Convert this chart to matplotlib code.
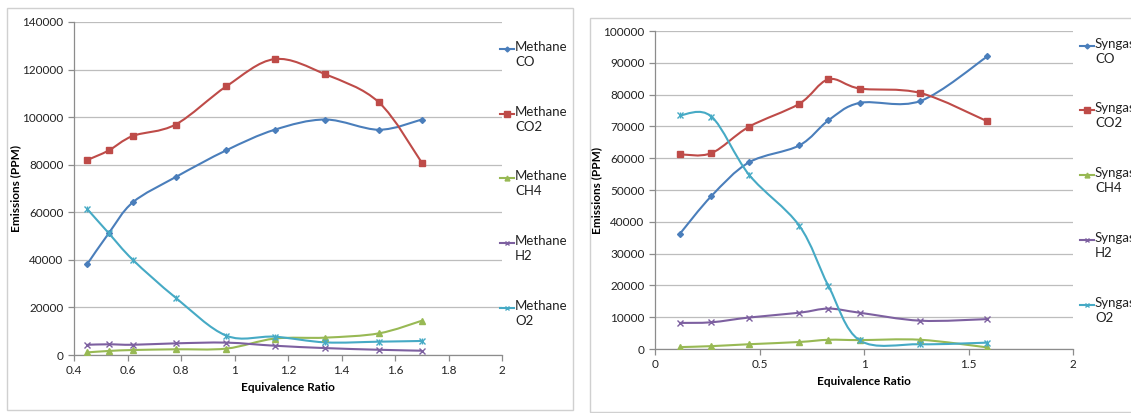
import matplotlib
matplotlib.use("Agg")
from matplotlib import pyplot as plt
from matplotlib.path import Path
from matplotlib.patches import PathPatch, Rectangle
from matplotlib.lines import Line2D
import numpy as np

plt.rcParams["font.family"] = ["Lato", "DejaVu Sans"]

# methane data
m_x = [0.45, 0.53, 0.62, 0.78, 0.97, 1.15, 1.34, 1.54, 1.70]
m_co = [38300, 51200, 64200, 74800, 86100, 94700, 99000, 94700, 99000]
m_co2 = [82000, 86000, 92100, 96900, 113000, 124400, 118000, 106200, 80900]
m_ch4 = [1100, 1700, 2100, 2400, 2700, 6900, 7300, 9100, 14400]
m_h2 = [4300, 4500, 4300, 4900, 5200, 3900, 2900, 2200, 1800]
m_o2 = [61300, 51200, 40000, 24100, 8100, 7700, 5300, 5600, 5900]

# syngas data
s_x = [0.12, 0.27, 0.45, 0.69, 0.83, 0.98, 1.27, 1.59]
s_co = [36300, 48100, 58700, 64000, 71900, 77400, 78000, 92000]
s_co2 = [61200, 61600, 69900, 77100, 84800, 81900, 80500, 71600]
s_ch4 = [600, 900, 1500, 2200, 2900, 2800, 2900, 500]
s_h2 = [8200, 8400, 9900, 11400, 12700, 11400, 8900, 9400]
s_o2 = [73500, 73100, 54800, 38800, 19800, 2700, 1500, 2000]

species = ["CO", "CO2", "CH4", "H2", "O2"]
colors = ["#4A7EBB", "#BE4B48", "#98B954", "#7D60A0", "#46AAC5"]
markers = ["D", "s", "^", "x", "x"]
msizes = [3, 5, 4, 4, 4]


# smoothed line like excel (bezier through the points)
def smooth_path(x, y, t=1 / 6):
    pts = np.column_stack([x, y]).astype(float)
    n = len(pts)
    verts = [pts[0]]
    codes = [Path.MOVETO]
    for i in range(n - 1):
        p0 = pts[max(i - 1, 0)]
        p1 = pts[i]
        p2 = pts[i + 1]
        p3 = pts[min(i + 2, n - 1)]
        verts += [p1 + (p2 - p0) * t, p2 - (p3 - p1) * t, p2]
        codes += [Path.CURVE4] * 3
    return Path(verts, codes)


def draw_chart(ax, x, series, xlim, xticks, xlabels, ylim, yticks):
    for k, y in enumerate(series):
        ax.add_patch(PathPatch(smooth_path(x, y), fc="none", ec=colors[k], lw=1.5, zorder=3))
        ax.plot(x, y, ls="none", marker=markers[k], ms=msizes[k], color=colors[k],
                mew=1, zorder=4)
        if k == 4:
            ax.plot(x, y, ls="none", marker="|", ms=4, color=colors[k], mew=1, zorder=4)
    ax.set_xlim(xlim)
    ax.set_ylim(ylim)
    ax.set_xticks(xticks)
    ax.set_xticklabels(xlabels)
    ax.set_yticks(yticks)
    ax.set_yticklabels([str(v) for v in yticks])
    ax.grid(axis="y", color="#BDBDBD", lw=0.9)
    ax.set_axisbelow(True)
    for s in ["top", "right"]:
        ax.spines[s].set_visible(False)
    for s in ["left", "bottom"]:
        ax.spines[s].set_color("#8C8C8C")
        ax.spines[s].set_linewidth(0.9)
    ax.tick_params(colors="#8C8C8C", labelcolor="#222222", labelsize=8.5, length=4, width=0.9)
    ax.set_xlabel("Equivalence Ratio", fontsize=8.5, fontweight="bold", labelpad=4)
    ax.set_ylabel("Emissions (PPM)", fontsize=8.5, fontweight="bold", labelpad=1)


fig = plt.figure(figsize=(11.31, 4.13), dpi=100)
W, H = 1131, 413

# panel frames
fig.add_artist(Rectangle((7 / W, 1 - 410 / H), 566 / W, 402 / H, transform=fig.transFigure,
                         fc="none", ec="#D0D0D0", lw=1))
fig.add_artist(Rectangle((590 / W, 1 - 412 / H), 560 / W, 394 / H, transform=fig.transFigure,
                         fc="none", ec="#D0D0D0", lw=1))

ax1 = fig.add_axes([74 / W, 1 - 355 / H, 428 / W, 333 / H])
draw_chart(ax1, m_x, [m_co, m_co2, m_ch4, m_h2, m_o2], (0.4, 2.0),
           [0.4, 0.6, 0.8, 1.0, 1.2, 1.4, 1.6, 1.8, 2.0],
           ["0.4", "0.6", "0.8", "1", "1.2", "1.4", "1.6", "1.8", "2"],
           (0, 140000), list(range(0, 140001, 20000)))

ax2 = fig.add_axes([655 / W, 1 - 349 / H, 418 / W, 318 / H])
draw_chart(ax2, s_x, [s_co, s_co2, s_ch4, s_h2, s_o2], (0, 2.0),
           [0, 0.5, 1.0, 1.5, 2.0], ["0", "0.5", "1", "1.5", "2"],
           (0, 100000), list(range(0, 100001, 10000)))


# legends drawn by hand so the line sits at the first text row
def draw_legend(x0, ys, name):
    for k, yy in enumerate(ys):
        yf = 1 - yy / H
        fig.add_artist(Line2D([x0 / W, (x0 + 14) / W], [yf, yf], transform=fig.transFigure,
                              color=colors[k], lw=1.5))
        fig.add_artist(Line2D([(x0 + 7) / W], [yf], transform=fig.transFigure,
                              color=colors[k], marker=markers[k], ms=msizes[k] - 0.5, ls="none"))
        fig.text((x0 + 15) / W, yf + 8 / H, name + "\n" + species[k], fontsize=9.5, va="top",
                 ha="left", color="#222222", linespacing=1.3)


draw_legend(500, [49, 114, 178, 243, 308], "Methane")
draw_legend(1080, [46, 110, 175, 240, 305], "Syngas")

fig.savefig("out.png", dpi=100, facecolor="white")
